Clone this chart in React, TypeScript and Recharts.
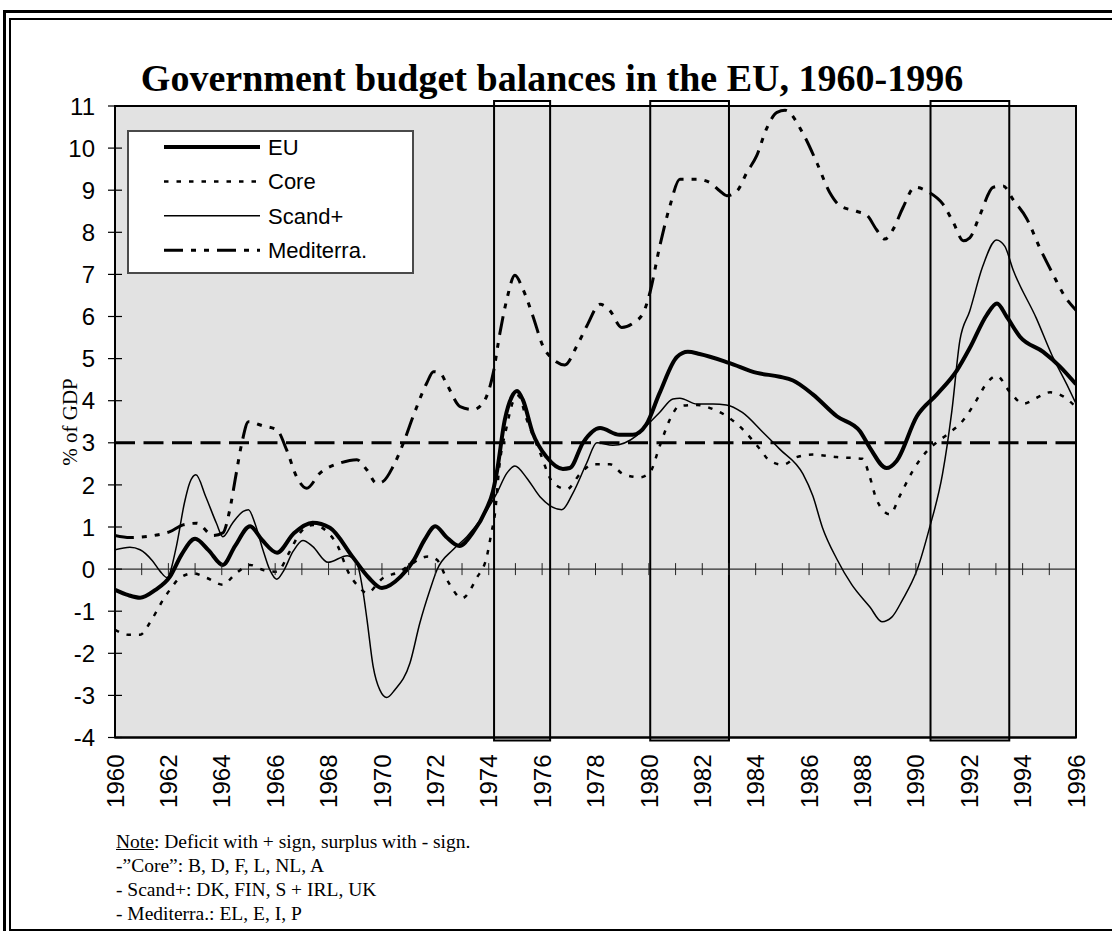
import React from 'react';
import {
  LineChart,
  Line,
  XAxis,
  YAxis,
  CartesianGrid,
  ReferenceLine,
  ReferenceArea,
  ReferenceDot,
  Legend,
} from 'recharts';

// ---------------- DATA ----------------
const euYears = [1960.0, 1960.5, 1960.94, 1961.5, 1962.06, 1962.5, 1963.0, 1963.5, 1964.04, 1964.5, 1965.06, 1965.5, 1966.07, 1966.7, 1967.4, 1968.05, 1968.9, 1969.5, 1970.0, 1970.7, 1971.2, 1971.6, 1972.0, 1972.4, 1972.9, 1973.4, 1973.9, 1974.16, 1974.3, 1974.6, 1974.87, 1975.06, 1975.28, 1975.65, 1976.17, 1976.78, 1977.04, 1977.53, 1978.17, 1978.9, 1979.4, 1979.9, 1980.4, 1981.05, 1981.46, 1981.9, 1983.0, 1984.05, 1984.9, 1985.4, 1986.14, 1987.04, 1987.9, 1988.28, 1988.9, 1989.28, 1990.04, 1990.79, 1991.54, 1992.02, 1992.66, 1993.04, 1993.4, 1993.9, 1994.77, 1995.4, 1996.0];
const euValues = [-0.49, -0.62, -0.68, -0.5, -0.18, 0.35, 0.72, 0.45, 0.1, 0.55, 1.02, 0.7, 0.39, 0.85, 1.1, 0.98, 0.29, -0.2, -0.45, -0.18, 0.22, 0.7, 1.02, 0.77, 0.55, 0.86, 1.41, 1.85, 2.29, 3.54, 4.1, 4.23, 4.02, 3.23, 2.66, 2.38, 2.4, 3.0, 3.35, 3.19, 3.19, 3.43, 4.18, 5.04, 5.16, 5.11, 4.9, 4.66, 4.57, 4.48, 4.15, 3.63, 3.28, 2.88, 2.4, 2.57, 3.63, 4.15, 4.72, 5.25, 6.04, 6.31, 6.0, 5.52, 5.16, 4.81, 4.39];

const coreYears = [1960.0, 1960.5, 1960.94, 1961.3, 1961.56, 1961.8, 1962.06, 1962.43, 1962.93, 1963.44, 1964.04, 1964.5, 1965.06, 1965.55, 1966.06, 1966.55, 1966.93, 1967.42, 1967.94, 1968.35, 1968.73, 1969.18, 1969.43, 1970.04, 1970.67, 1971.05, 1971.73, 1972.06, 1972.47, 1973.0, 1973.55, 1973.93, 1974.1, 1974.23, 1974.4, 1974.68, 1974.9, 1975.1, 1975.42, 1975.92, 1976.4, 1976.93, 1977.42, 1977.9, 1978.54, 1979.03, 1979.66, 1980.04, 1980.41, 1980.79, 1981.16, 1981.8, 1982.4, 1982.9, 1983.5, 1984.16, 1984.53, 1985.03, 1985.53, 1986.14, 1987.03, 1988.0, 1988.28, 1988.53, 1989.03, 1989.4, 1989.9, 1990.4, 1990.78, 1991.16, 1991.78, 1992.28, 1992.66, 1993.03, 1993.53, 1994.03, 1994.53, 1995.03, 1995.5, 1996.0];
const coreValues = [-1.44, -1.56, -1.56, -1.28, -1.0, -0.73, -0.49, -0.21, -0.1, -0.21, -0.37, -0.12, 0.1, -0.02, -0.06, 0.42, 0.86, 1.05, 0.89, 0.54, -0.06, -0.45, -0.57, -0.21, -0.06, 0.1, 0.3, 0.22, -0.29, -0.69, -0.21, 0.3, 0.86, 1.3, 2.45, 3.4, 3.96, 4.12, 3.56, 2.77, 2.06, 1.9, 2.26, 2.49, 2.49, 2.26, 2.18, 2.3, 2.93, 3.56, 3.88, 3.9, 3.8, 3.64, 3.33, 2.85, 2.57, 2.48, 2.66, 2.72, 2.66, 2.62, 2.18, 1.65, 1.3, 1.74, 2.35, 2.79, 3.01, 3.19, 3.54, 4.02, 4.42, 4.59, 4.2, 3.93, 4.07, 4.2, 4.11, 3.85];

const scandYears = [1960.0, 1960.56, 1960.94, 1961.4, 1961.7, 1961.95, 1962.3, 1962.6, 1962.8, 1963.03, 1963.4, 1963.8, 1964.04, 1964.4, 1964.8, 1965.0, 1965.24, 1965.54, 1965.8, 1966.06, 1966.3, 1966.67, 1967.04, 1967.4, 1967.98, 1968.7, 1969.06, 1969.3, 1969.44, 1969.67, 1969.92, 1970.18, 1970.48, 1971.05, 1971.42, 1971.8, 1972.06, 1972.66, 1973.18, 1973.78, 1974.3, 1974.68, 1974.98, 1975.43, 1975.92, 1976.74, 1977.15, 1977.67, 1978.05, 1978.65, 1979.54, 1979.9, 1980.4, 1980.9, 1981.16, 1981.8, 1982.4, 1982.9, 1983.5, 1984.27, 1984.9, 1985.77, 1986.14, 1986.5, 1987.04, 1987.6, 1988.28, 1988.73, 1989.1, 1989.5, 1990.04, 1990.5, 1991.0, 1991.35, 1991.65, 1992.02, 1992.5, 1993.02, 1993.33, 1993.65, 1994.52, 1995.1, 1995.66, 1996.0];
const scandValues = [0.46, 0.52, 0.46, 0.2, -0.06, -0.2, 0.54, 1.57, 2.05, 2.24, 1.72, 1.09, 0.77, 1.09, 1.37, 1.41, 1.09, 0.46, -0.02, -0.24, -0.06, 0.42, 0.68, 0.54, 0.16, 0.32, 0.14, -0.57, -1.2, -2.31, -2.87, -3.05, -2.87, -2.23, -1.28, -0.49, -0.02, 0.46, 0.77, 1.25, 1.8, 2.28, 2.45, 2.16, 1.72, 1.41, 1.8, 2.52, 3.0, 2.94, 3.17, 3.4, 3.72, 4.04, 4.06, 3.92, 3.92, 3.9, 3.72, 3.25, 2.85, 2.26, 1.74, 0.99, 0.24, -0.37, -0.9, -1.25, -1.14, -0.73, -0.03, 0.95, 2.26, 3.76, 5.43, 6.13, 7.18, 7.82, 7.67, 7.1, 5.95, 5.08, 4.38, 3.93];

const medYears = [1960.0, 1960.56, 1961.56, 1962.06, 1962.55, 1963.06, 1963.67, 1964.04, 1964.3, 1964.5, 1964.75, 1965.0, 1965.55, 1966.06, 1966.43, 1966.8, 1967.18, 1967.68, 1968.43, 1969.06, 1969.43, 1969.8, 1970.04, 1970.42, 1970.8, 1971.17, 1971.68, 1971.93, 1972.17, 1972.47, 1972.93, 1973.42, 1973.8, 1974.17, 1974.42, 1974.68, 1974.98, 1975.28, 1975.65, 1976.03, 1976.4, 1976.85, 1977.3, 1977.68, 1978.17, 1978.54, 1978.98, 1979.42, 1979.8, 1980.04, 1980.41, 1980.79, 1981.16, 1981.8, 1982.29, 1982.66, 1982.92, 1983.3, 1983.67, 1984.04, 1984.4, 1984.8, 1985.1, 1985.77, 1986.3, 1986.78, 1987.16, 1987.78, 1988.16, 1988.53, 1988.84, 1989.14, 1989.52, 1989.96, 1990.52, 1991.0, 1991.4, 1991.78, 1992.02, 1992.4, 1992.9, 1993.27, 1993.65, 1994.15, 1994.65, 1995.14, 1995.58, 1996.0];
const medValues = [0.8, 0.75, 0.81, 0.89, 1.05, 1.09, 0.8, 0.86, 1.41, 2.12, 2.99, 3.5, 3.4, 3.31, 2.83, 2.2, 1.92, 2.28, 2.52, 2.6, 2.36, 2.04, 2.08, 2.44, 2.99, 3.63, 4.42, 4.69, 4.66, 4.34, 3.86, 3.79, 3.96, 4.66, 5.61, 6.41, 6.98, 6.65, 6.02, 5.3, 4.99, 4.85, 5.3, 5.78, 6.29, 6.14, 5.74, 5.85, 6.1, 6.57, 7.68, 8.63, 9.26, 9.26, 9.18, 8.98, 8.87, 8.98, 9.42, 9.82, 10.45, 10.85, 10.9, 10.35, 9.64, 8.94, 8.63, 8.5, 8.41, 8.06, 7.84, 8.06, 8.59, 9.07, 8.94, 8.68, 8.24, 7.8, 7.87, 8.41, 9.07, 9.1, 8.77, 8.33, 7.62, 7.0, 6.48, 6.15];

const seriesNames = ['EU', 'Core', 'Scand+', 'Mediterra.'];
const yTicks = [-4, -3, -2, -1, 0, 1, 2, 3, 4, 5, 6, 7, 8, 9, 10, 11];
const xTickLabels = [1960, 1962, 1964, 1966, 1968, 1970, 1972, 1974, 1976, 1978, 1980, 1982, 1984, 1986, 1988, 1990, 1992, 1994, 1996];
const yearMarks = [1961, 1962, 1963, 1964, 1965, 1966, 1967, 1968, 1969, 1970, 1971, 1972, 1973, 1974, 1975, 1976, 1977, 1978, 1979, 1980, 1981, 1982, 1983, 1984, 1985, 1986, 1987, 1988, 1989, 1990, 1991, 1992, 1993, 1994, 1995];
const recessionStarts = [1974.2, 1980.05, 1990.55];
const recessionEnds = [1976.3, 1983.0, 1993.5];
const referenceLevel = 3;

const titleText = 'Government budget balances in the EU, 1960-1996';
const yAxisTitle = '% of GDP';
const noteLines = [
  ': Deficit with + sign, surplus with - sign.',
  '-\u201DCore\u201D: B, D, F, L, NL, A',
  '- Scand+: DK, FIN, S + IRL, UK',
  '- Mediterra.: EL, E, I, P',
];

const zip = (xs: number[], ys: number[]) => xs.map((x, i) => ({ year: x, value: ys[i] }));
const euData = zip(euYears, euValues);
const coreData = zip(coreYears, coreValues);
const scandData = zip(scandYears, scandValues);
const medData = zip(medYears, medValues);

// ---------------- STYLES ----------------
const SANS = '"Liberation Sans", Arial, sans-serif';
const SERIF = '"Liberation Serif", "Times New Roman", serif';

const seriesStyle: Record<string, { w: number; dash?: string }> = {
  EU: { w: 4 },
  Core: { w: 2.5, dash: '4.5 8' },
  'Scand+': { w: 1.5 },
  'Mediterra.': { w: 3, dash: '19 8 5 8 5 8' },
};

const YTick = (props: any) => {
  const { x, y, payload } = props;
  return (
    <g>
      <line x1={x + 13} x2={x + 27} y1={y} y2={y} stroke="#000" strokeWidth={1.2} />
      <text x={x} y={y} dy="0.36em" textAnchor="end" fontFamily={SANS} fontSize={24} fill="#000">
        {payload.value}
      </text>
    </g>
  );
};

const XTick = (props: any) => {
  const { x, y, payload } = props;
  return (
    <g transform={`translate(${x},${y})`}>
      <text transform="rotate(-90)" textAnchor="end" dy="0.36em" fontFamily={SANS} fontSize={24} fill="#000">
        {payload.value}
      </text>
    </g>
  );
};

const YearMark = (props: any) => {
  const { cx, cy } = props;
  return <line x1={cx} x2={cx} y1={cy - 6} y2={cy + 6} stroke="#222" strokeWidth={1} />;
};

const LegendBox = (props: any) => {
  const payload = [...(props.payload || [])].sort(
    (a: any, b: any) => seriesNames.indexOf(a.value) - seriesNames.indexOf(b.value)
  );
  const rowH = 34.4;
  return (
    <svg width={287} height={144} style={{ display: 'block' }}>
      <rect x={1} y={1} width={285} height={142} fill="#fff" stroke="#4a4a4a" strokeWidth={2} />
      {payload.map((p: any, i: number) => {
        const st = seriesStyle[p.value] || { w: 2 };
        const cy = 17 + i * rowH;
        return (
          <g key={p.value}>
            <line x1={37} x2={133} y1={cy} y2={cy} stroke="#000" strokeWidth={st.w} strokeDasharray={st.dash} />
            <text x={141} y={cy} dy="0.36em" fontFamily={SANS} fontSize={22} fill="#000">
              {p.value}
            </text>
          </g>
        );
      })}
    </svg>
  );
};

export default function App() {
  return (
    <div style={{ position: 'absolute', left: 0, top: 0, width: 1112, height: 931, background: '#fff', overflow: 'hidden' }}>
      {/* double frame */}
      <div style={{ position: 'absolute', left: 3, top: 10, width: 1200, height: 960, borderTop: '3px solid #000', borderLeft: '3px solid #000' }} />
      <div style={{ position: 'absolute', left: 9, top: 18, width: 1200, height: 909, borderTop: '2px solid #000', borderLeft: '2px solid #000', borderBottom: '2px solid #000' }} />

      {/* title */}
      <div style={{ position: 'absolute', left: -4, width: 1112, top: 57, textAlign: 'center', fontFamily: SERIF, fontWeight: 'bold', fontSize: 38, lineHeight: '42px', color: '#000' }}>
        {titleText}
      </div>

      {/* y-axis title */}
      <div style={{ position: 'absolute', left: 70, top: 422, transform: 'translate(-50%,-50%) rotate(-90deg)', fontFamily: SERIF, fontSize: 21, whiteSpace: 'nowrap', color: '#000' }}>
        {yAxisTitle}
      </div>

      <div style={{ position: 'absolute', left: 0, top: 0 }}>
        <LineChart width={1112} height={931} margin={{ top: 106, right: 36, bottom: 113.5, left: 0 }}>
          <CartesianGrid horizontal={false} vertical={false} fill="#e2e2e2" />
          <XAxis
            dataKey="year"
            type="number"
            domain={[1960, 1996]}
            ticks={xTickLabels}
            interval={0}
            height={80}
            tickLine={false}
            tickSize={0}
            tickMargin={17}
            tick={<XTick />}
            axisLine={{ stroke: '#000', strokeWidth: 2 }}
            allowDataOverflow
          />
          <YAxis
            type="number"
            domain={[-4, 11]}
            ticks={yTicks}
            interval={0}
            width={115}
            tickLine={false}
            tickSize={0}
            tickMargin={20}
            tick={<YTick />}
            axisLine={{ stroke: '#000', strokeWidth: 2 }}
            allowDataOverflow
          />
          <ReferenceLine y={0} stroke="#000" strokeWidth={1} />
          {yearMarks.map((yr) => (
            <ReferenceDot key={yr} x={yr} y={0} r={0} shape={<YearMark />} />
          ))}
          <ReferenceLine y={referenceLevel} stroke="#000" strokeWidth={3} strokeDasharray="20 8.5" />
          <Line data={euData} dataKey="value" name={seriesNames[0]} type="monotone" stroke="#000" strokeWidth={4} dot={false} isAnimationActive={false} />
          <Line data={coreData} dataKey="value" name={seriesNames[1]} type="monotone" stroke="#000" strokeWidth={2.5} strokeDasharray="4.5 8" dot={false} isAnimationActive={false} />
          <Line data={scandData} dataKey="value" name={seriesNames[2]} type="monotone" stroke="#000" strokeWidth={1.5} dot={false} isAnimationActive={false} />
          <Line data={medData} dataKey="value" name={seriesNames[3]} type="monotone" stroke="#000" strokeWidth={3} strokeDasharray="19 8 5 8 5 8" dot={false} isAnimationActive={false} />
          <ReferenceArea x1={1960} x2={1996} y1={-4} y2={11} fill="none" stroke="#000" strokeWidth={2} ifOverflow="visible" />
          {recessionStarts.map((s, i) => (
            <ReferenceArea key={s} x1={s} x2={recessionEnds[i]} y1={-4.07} y2={11.12} fill="none" fillOpacity={0} stroke="#000" strokeWidth={2} ifOverflow="visible" />
          ))}
          <Legend
            layout="vertical"
            align="center"
            verticalAlign="middle"
            content={<LegendBox />}
            wrapperStyle={{ position: 'absolute', left: 127, top: 130, width: 287, height: 144 }}
          />
        </LineChart>
      </div>

      {/* notes */}
      <div style={{ position: 'absolute', left: 116, top: 830, fontFamily: SERIF, fontSize: 19.5, lineHeight: '24px', color: '#000', whiteSpace: 'nowrap' }}>
        <div>
          <span style={{ textDecoration: 'underline' }}>Note</span>
          {noteLines[0]}
        </div>
        {noteLines.slice(1).map((l) => (
          <div key={l}>{l}</div>
        ))}
      </div>
    </div>
  );
}
